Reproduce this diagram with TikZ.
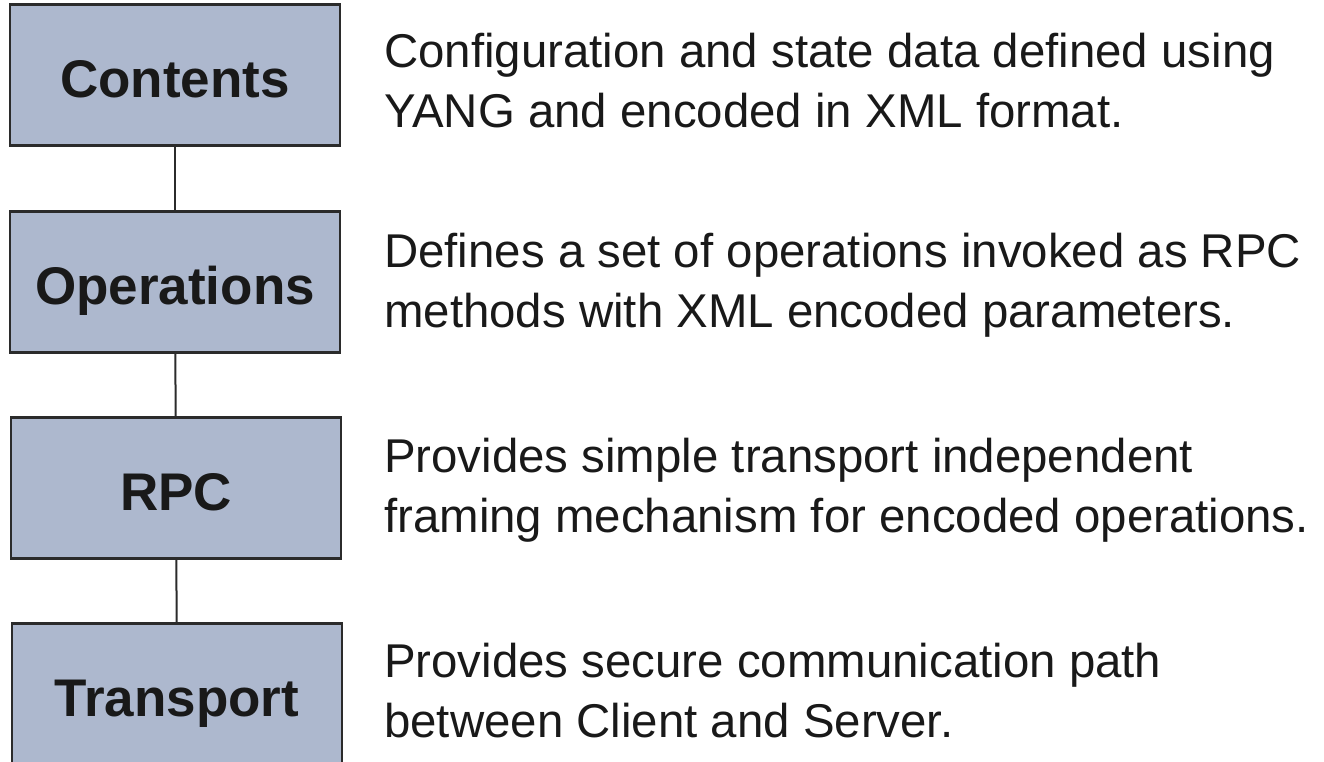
\documentclass[tikz,border=0pt]{standalone}
\usepackage{fontspec}
\setmainfont{Liberation Sans}
\usepackage{tikz}

\definecolor{layerfill}{HTML}{ADB8CE}
\definecolor{inkgray}{HTML}{2B2B2B}

\begin{document}
\begin{tikzpicture}[x=1pt,y=-1pt,
    layer/.style={draw=inkgray,line width=2.6pt,fill=layerfill,minimum width=330pt,minimum height=141pt,inner sep=0pt,
        font=\fontsize{53}{60}\selectfont\bfseries,text=black!90,text height=44pt,text depth=0pt},
    descr/.style={anchor=base west,align=left,inner sep=0pt,font=\fontsize{47.4}{60}\selectfont,text=black!90}]

    \useasboundingbox (0,0) rectangle (1324,761);

    \node[layer]         (contents)   at (175, 75)    {Contents};
    \node[layer]         (operations) at (175, 282)   {Operations};
    \node[layer]         (rpc)        at (176, 488)   {RPC};
    \node[layer]         (transport)  at (177, 694)   {Transport};


    % base anchor sits on the second line
    \node[descr]         (contents-txt)   at (384, 127)  {Configuration and state data defined using\\YANG and encoded in XML format.};
    \node[descr]         (operations-txt) at (384, 327)  {Defines a set of operations invoked as RPC\\methods with XML encoded parameters.};
    \node[descr]         (rpc-txt)        at (384, 532)  {Provides simple transport independent\\framing mechanism for encoded operations.};
    \node[descr]         (transport-txt)  at (384, 737)  {Provides secure communication path\\between Client and Server.};


    \draw[inkgray,line width=2pt] (contents) -- (operations);
    \draw[inkgray,line width=2pt] (operations) -- (rpc);
    \draw[inkgray,line width=2pt] (rpc) -- (transport);
  \end{tikzpicture}
\end{document}
